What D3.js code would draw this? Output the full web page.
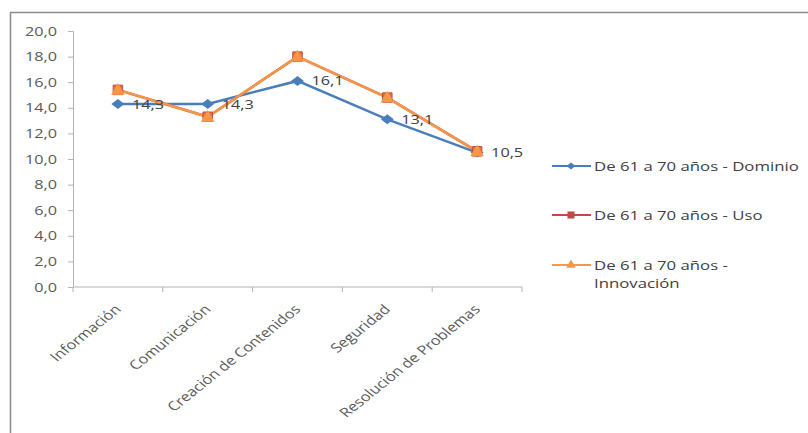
<!DOCTYPE html>
<html>
<head>
<meta charset="utf-8">
<script src="https://cdn.jsdelivr.net/npm/d3@7"></script>
<style>
  html, body { margin: 0; padding: 0; background: #fff; }
  svg { display: block; }
  text { font-family: "Open Sans", "Liberation Sans", sans-serif; }
</style>
</head>
<body>
<svg id="chart" width="808" height="433"></svg>
<script>
// Competencias digitales, grupo de 61 a 70 años
const categories = ["Información", "Comunicación", "Creación de Contenidos", "Seguridad", "Resolución de Problemas"];
const dominio    = [14.3, 14.3, 16.1, 13.1, 10.5];
const uso        = [15.4, 13.3, 18.0, 14.8, 10.6];
const innovacion = [15.4, 13.3, 18.0, 14.8, 10.6];
const yTicks     = [0, 2, 4, 6, 8, 10, 12, 14, 16, 18, 20];
const seriesNames = ["De 61 a 70 años - Dominio", "De 61 a 70 años - Uso", "De 61 a 70 años - Innovación"];

const colors = { dominio: "#4A7EBB", uso: "#BE4B48", innovacion: "#F79646" };
const SX = 1.25;   // horizontal stretch of the text glyphs
const FS = 13;

const svg = d3.select("#chart");
const W = 808, H = 433;

// outer frame of the chart area
svg.append("path")
  .attr("d", `M10.5,${H} V12.5 H${W}`)
  .attr("fill", "none").attr("stroke", "#8c8c8c").attr("stroke-width", 1.5);

const plot = { left: 73, right: 522, top: 31, bottom: 287 };

const x = d3.scaleBand().domain(categories).range([plot.left, plot.right]).paddingInner(0).paddingOuter(0);
const y = d3.scaleLinear().domain([0, 20]).range([plot.bottom, plot.top]);
const cx = c => x(c) + x.bandwidth() / 2;

const fmt = v => d3.format(".1f")(v).replace(".", ",");

// y axis
const yAxis = svg.append("g").attr("transform", `translate(${plot.left},0)`)
  .call(d3.axisLeft(y).tickValues(yTicks).tickFormat(fmt).tickSize(5).tickPadding(11));
yAxis.select(".domain").attr("stroke", "#b3b3b3");
yAxis.selectAll(".tick line").attr("stroke", "#b3b3b3");
yAxis.selectAll(".tick text")
  .attr("x", null)
  .attr("transform", `translate(-16,0) scale(${SX},1)`)
  .attr("fill", "#595959").attr("font-size", FS)
  .style("font-family", "'Open Sans', sans-serif");

// x axis: ticks at category boundaries
const xAxis = svg.append("g").attr("transform", `translate(0,${plot.bottom})`);
xAxis.append("line").attr("x1", plot.left).attr("x2", plot.right)
  .attr("stroke", "#b3b3b3");
const boundaries = categories.map(c => x(c)).concat([plot.right]);
xAxis.selectAll("line.tk").data(boundaries).join("line").attr("class", "tk")
  .attr("x1", d => d).attr("x2", d => d).attr("y1", 0).attr("y2", 5)
  .attr("stroke", "#b3b3b3");
xAxis.selectAll("text.cat").data(categories).join("text").attr("class", "cat")
  .attr("transform", d => `translate(${cx(d)},${20}) scale(${SX},1) rotate(-45)`)
  .attr("text-anchor", "end").attr("dy", "0.35em")
  .attr("fill", "#595959").attr("font-size", FS)
  .text(d => d);

const line = d3.line().x((d, i) => cx(categories[i])).y(d => y(d));

// Dominio
svg.append("path").datum(dominio).attr("d", line)
  .attr("fill", "none").attr("stroke", colors.dominio).attr("stroke-width", 2.5);
// Uso
svg.append("path").datum(uso).attr("d", line)
  .attr("fill", "none").attr("stroke", colors.uso).attr("stroke-width", 2.5);
// Innovación
svg.append("path").datum(innovacion).attr("d", line)
  .attr("fill", "none").attr("stroke", colors.innovacion).attr("stroke-width", 2.5);

// wide rhombus marker
const rhombus = (w, h) => ({
  draw(ctx) {
    ctx.moveTo(0, -h / 2); ctx.lineTo(w / 2, 0); ctx.lineTo(0, h / 2); ctx.lineTo(-w / 2, 0); ctx.closePath();
  }
});
const diamond = d3.symbol().type(rhombus(13, 10));
const diamondSmall = d3.symbol().type(rhombus(9, 7));
const square = d3.symbol().type(d3.symbolSquare).size(90);
const squareSmall = d3.symbol().type(d3.symbolSquare).size(50);
const triangle = d3.symbol().type(d3.symbolTriangle).size(80);
const triangleSmall = d3.symbol().type(d3.symbolTriangle).size(40);

svg.selectAll("path.mk-dom").data(dominio).join("path").attr("class", "mk-dom")
  .attr("transform", (d, i) => `translate(${cx(categories[i])},${y(d)})`)
  .attr("d", diamond).attr("fill", colors.dominio);
svg.selectAll("path.mk-uso").data(uso).join("path").attr("class", "mk-uso")
  .attr("transform", (d, i) => `translate(${cx(categories[i])},${y(d)})`)
  .attr("d", square).attr("fill", "#E0743F").attr("stroke", colors.uso).attr("stroke-width", 1);
svg.selectAll("path.mk-inn").data(innovacion).join("path").attr("class", "mk-inn")
  .attr("transform", (d, i) => `translate(${cx(categories[i])},${y(d) + 1})`)
  .attr("d", triangle).attr("fill", colors.innovacion);

// value labels for Dominio
svg.selectAll("text.lbl").data(dominio).join("text").attr("class", "lbl")
  .attr("transform", (d, i) => `translate(${cx(categories[i]) + 14},${y(d)}) scale(${SX},1)`)
  .attr("dy", "0.35em")
  .attr("fill", "#404040").attr("font-size", FS)
  .text(d => fmt(d));

// legend
const legend = svg.append("g");
const legendItems = [
  { name: seriesNames[0], color: colors.dominio, sym: diamondSmall, fill: colors.dominio, y: 166, lines: ["De 61 a 70 años - Dominio"] },
  { name: seriesNames[1], color: colors.uso, sym: squareSmall, fill: colors.uso, y: 215, lines: ["De 61 a 70 años - Uso"] },
  { name: seriesNames[2], color: colors.innovacion, sym: triangleSmall, fill: colors.innovacion, y: 265, lines: ["De 61 a 70 años -", "Innovación"] }
];
legendItems.forEach(it => {
  const g = legend.append("g").attr("transform", `translate(552,${it.y})`);
  g.append("line").attr("x1", 0).attr("x2", 39).attr("stroke", it.color).attr("stroke-width", 2);
  g.append("path").attr("transform", "translate(19,0)").attr("d", it.sym).attr("fill", it.fill);
  const t = g.append("text").attr("transform", `translate(42,0) scale(${SX},1)`)
    .attr("fill", "#404040").attr("font-size", 13.4);
  it.lines.forEach((l, k) => t.append("tspan").attr("x", 0).attr("y", k * 18).attr("dy", "0.35em").text(l));
});
</script>
</body>
</html>
